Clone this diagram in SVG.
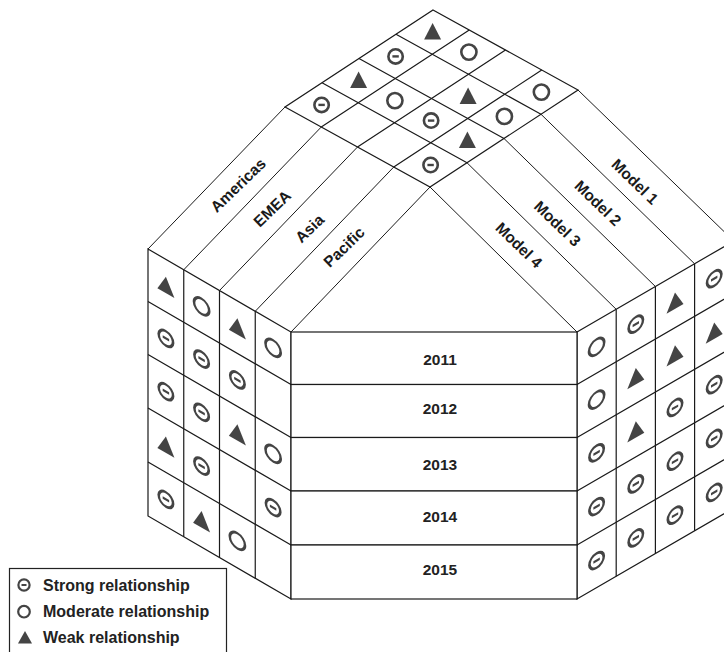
<svg xmlns="http://www.w3.org/2000/svg" xmlns:xlink="http://www.w3.org/1999/xlink" width="724" height="652" viewBox="0 0 724 652">
<style>
.ln{fill:none;stroke:#1a1a1a;stroke-width:1.2}
.rf{fill:none;stroke:#1a1a1a;stroke-width:1}
.face{fill:#fff;stroke:#1a1a1a;stroke-width:1.2}
.lbl{font-family:"Liberation Sans",Arial,sans-serif;font-weight:bold;font-size:15.5px;fill:#1a1a1a;text-anchor:middle;dominant-baseline:central}
.yr{font-family:"Liberation Sans",Arial,sans-serif;font-weight:bold;font-size:15.5px;fill:#222;text-anchor:middle}
.lg{font-family:"Liberation Sans",Arial,sans-serif;font-weight:bold;font-size:16px;fill:#222}
</style>
<defs>
<g id="strong"><circle r="7.2" fill="#fff" stroke="#444" stroke-width="2.6"/><line x1="-3.2" y1="0" x2="3.2" y2="0" stroke="#444" stroke-width="2.4"/></g>
<g id="mod"><circle r="7.6" fill="#fff" stroke="#444" stroke-width="2.6"/></g>
<path id="weak" d="M0,-9 L8.5,7.5 L-8.5,7.5 Z" fill="#444"/>
<g id="lstrong"><circle r="5.6" fill="#fff" stroke="#444" stroke-width="2.2"/><line x1="-2.5" y1="0" x2="2.5" y2="0" stroke="#444" stroke-width="2"/></g>
<g id="lmod"><circle r="5.8" fill="#fff" stroke="#444" stroke-width="2.2"/></g>
<path id="lweak" d="M0,-6.5 L7,6 L-7,6 Z" fill="#444"/>
</defs>
<rect width="724" height="652" fill="#fff"/>

<g id="top-grid">
<path class="ln" d="M433,10 L578,90 L430,187 L285,107 Z"/>
<path class="ln" d="M396,34.25 L541,114.25 M359,58.5 L504,138.5 M322,82.75 L467,162.75"/>
<path class="ln" d="M469.25,30 L321.25,127 M505.5,50 L357.5,147 M541.75,70 L393.75,167"/>
<use href="#weak" x="432.6" y="32.1"/>
<use href="#strong" x="395.6" y="56.4"/>
<use href="#weak" x="358.6" y="80.6"/>
<use href="#strong" x="321.6" y="104.9"/>
<use href="#mod" x="468.9" y="52.1"/>
<use href="#mod" x="394.9" y="100.6"/>
<use href="#weak" x="468.1" y="96.4"/>
<use href="#strong" x="431.1" y="120.6"/>
<use href="#mod" x="541.4" y="92.1"/>
<use href="#mod" x="504.4" y="116.4"/>
<use href="#weak" x="467.4" y="140.6"/>
<use href="#strong" x="430.6" y="165"/>
</g>

<g id="left-roof">
<path class="rf" d="M148,249 L285,107 M183.75,269.75 L321.25,127 M219.5,290.5 L357.5,147 M255.25,311.25 L393.75,167 M291,332 L430,187"/>
<text class="lbl" transform="translate(238,185) rotate(-44)">Americas</text>
<text class="lbl" transform="translate(272,208.5) rotate(-44)">EMEA</text>
<text class="lbl" transform="translate(309.5,228.5) rotate(-44)">Asia</text>
<text class="lbl" transform="translate(344,247) rotate(-44)">Pacific</text>
</g>

<g id="right-roof">
<path class="rf" d="M430,187 L577,332 M467,162.75 L616.2,309.3 M504,138.5 L655.4,286.5 M541,114.25 L694.6,263.8 M578,90 L733.8,241"/>
<text class="lbl" transform="translate(635,181.5) rotate(44)">Model 1</text>
<text class="lbl" transform="translate(598,203) rotate(44)">Model 2</text>
<text class="lbl" transform="translate(557.5,223.5) rotate(44)">Model 3</text>
<text class="lbl" transform="translate(519,245) rotate(44)">Model 4</text>
</g>

<g id="left-wall">
<path class="face" d="M148,249 L291,332 L291,599 L148,516 Z"/>
<path class="ln" d="M148,301.5 L291,384.5 M148,354.5 L291,437.5 M148,408 L291,491 M148,462 L291,545"/>
<path class="ln" d="M183.75,269.75 L183.75,536.75 M219.5,290.5 L219.5,557.5 M255.25,311.25 L255.25,578.25"/>
<use href="#weak" transform="translate(165.9,285.65) skewY(30)"/>
<use href="#strong" transform="translate(165.9,338.4) skewY(30)"/>
<use href="#strong" transform="translate(165.9,391.65) skewY(30)"/>
<use href="#weak" transform="translate(165.9,445.4) skewY(30)"/>
<use href="#strong" transform="translate(165.9,499.4) skewY(30)"/>
<use href="#mod" transform="translate(201.6,306.35) skewY(30)"/>
<use href="#strong" transform="translate(201.6,359.1) skewY(30)"/>
<use href="#strong" transform="translate(201.6,412.35) skewY(30)"/>
<use href="#strong" transform="translate(201.6,466.1) skewY(30)"/>
<use href="#weak" transform="translate(201.6,520.1) skewY(30)"/>
<use href="#weak" transform="translate(237.4,327.15) skewY(30)"/>
<use href="#strong" transform="translate(237.4,379.9) skewY(30)"/>
<use href="#weak" transform="translate(237.4,433.15) skewY(30)"/>
<use href="#mod" transform="translate(237.4,540.9) skewY(30)"/>
<use href="#mod" transform="translate(273.1,347.85) skewY(30)"/>
<use href="#mod" transform="translate(273.1,453.85) skewY(30)"/>
<use href="#strong" transform="translate(273.1,507.6) skewY(30)"/>
</g>

<g id="right-wall">
<path class="face" d="M577,332 L733.8,241 L733.8,508 L577,599 Z"/>
<path class="ln" d="M577,384.5 L733.8,293.5 M577,437.5 L733.8,346.5 M577,491 L733.8,400 M577,545 L733.8,454"/>
<path class="ln" d="M616.2,309.3 L616.2,576.3 M655.4,286.5 L655.4,553.5 M694.6,263.8 L694.6,530.8"/>
<use href="#mod" transform="translate(596.6,346.85) skewY(-30)"/>
<use href="#mod" transform="translate(596.6,399.6) skewY(-30)"/>
<use href="#strong" transform="translate(596.6,452.85) skewY(-30)"/>
<use href="#strong" transform="translate(596.6,506.6) skewY(-30)"/>
<use href="#strong" transform="translate(596.6,560.6) skewY(-30)"/>
<use href="#strong" transform="translate(635.8,324.15) skewY(-30)"/>
<use href="#weak" transform="translate(635.8,376.9) skewY(-30)"/>
<use href="#weak" transform="translate(635.8,430.15) skewY(-30)"/>
<use href="#strong" transform="translate(635.8,483.9) skewY(-30)"/>
<use href="#strong" transform="translate(635.8,537.9) skewY(-30)"/>
<use href="#weak" transform="translate(675,301.45) skewY(-30)"/>
<use href="#weak" transform="translate(675,354.2) skewY(-30)"/>
<use href="#strong" transform="translate(675,407.45) skewY(-30)"/>
<use href="#strong" transform="translate(675,461.2) skewY(-30)"/>
<use href="#strong" transform="translate(675,515.2) skewY(-30)"/>
<use href="#strong" transform="translate(714.2,278.65) skewY(-30)"/>
<use href="#weak" transform="translate(714.2,331.4) skewY(-30)"/>
<use href="#strong" transform="translate(714.2,384.65) skewY(-30)"/>
<use href="#strong" transform="translate(714.2,438.4) skewY(-30)"/>
<use href="#strong" transform="translate(714.2,492.4) skewY(-30)"/>
</g>

<g id="year-2011"><rect class="face" x="291" y="332" width="286" height="52.5"/><text class="yr" x="440" y="364.6">2011</text></g>
<g id="year-2012"><rect class="face" x="291" y="384.5" width="286" height="53"/><text class="yr" x="440" y="414">2012</text></g>
<g id="year-2013"><rect class="face" x="291" y="437.5" width="286" height="53.5"/><text class="yr" x="440" y="469.6">2013</text></g>
<g id="year-2014"><rect class="face" x="291" y="491" width="286" height="54"/><text class="yr" x="440" y="522.3">2014</text></g>
<g id="year-2015"><rect class="face" x="291" y="545" width="286" height="54"/><text class="yr" x="440" y="574.9">2015</text></g>

<g id="connectors"></g>

<g id="legend">
<rect x="9.5" y="568.5" width="217" height="100" fill="#fff" stroke="#222" stroke-width="1.2"/>
<use href="#lstrong" x="24" y="585"/>
<text class="lg" x="43" y="590.7">Strong relationship</text>
<use href="#lmod" x="24" y="611.7"/>
<text class="lg" x="43" y="617.4">Moderate relationship</text>
<use href="#lweak" x="25" y="637.5"/>
<text class="lg" x="43" y="643">Weak relationship</text>
</g>
</svg>
